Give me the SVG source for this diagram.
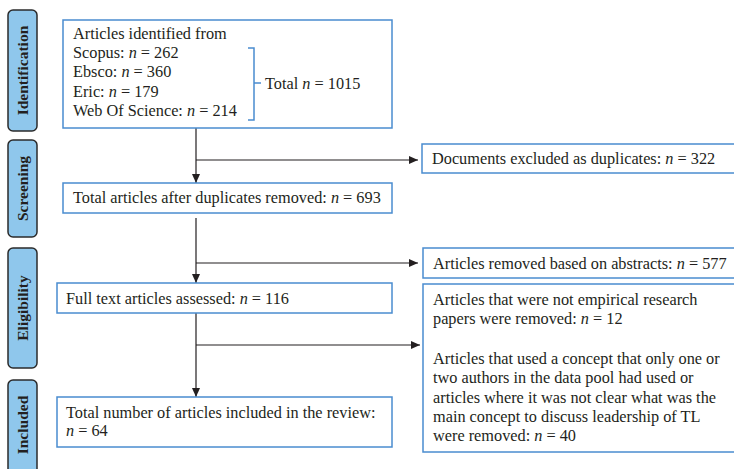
<svg xmlns="http://www.w3.org/2000/svg" width="734" height="469" viewBox="0 0 734 469">
<defs>
<marker id="arr" markerUnits="userSpaceOnUse" markerWidth="9" markerHeight="8" refX="9" refY="4" orient="auto">
<path d="M0,0 L9,4 L0,8 z" fill="#231f20"/>
</marker>
<style>
.box{fill:#fff;stroke:#4a8ccf;stroke-width:1.5}
.lab{fill:#8fc7ec;stroke:#2b2b2b;stroke-width:1.5}
.lt{font-family:"Liberation Serif","Times New Roman",serif;font-weight:bold;font-size:15.5px;fill:#231f20;text-anchor:middle;dominant-baseline:central}
.t{font-family:"Liberation Serif","Times New Roman",serif;font-size:16.3px;fill:#231f20}
.i{font-style:italic}
.c{fill:none;stroke:#231f20;stroke-width:1.2}
.br{fill:none;stroke:#4a8ccf;stroke-width:1.5}
</style>
</defs>
<rect width="734" height="469" fill="#fff"/>

<g id="stage-identification">
<rect class="lab" x="8" y="10" width="29" height="121" rx="5"/>
<text class="lt" transform="translate(22.5,70.5) rotate(-90)">Identification</text>
</g>
<g id="stage-screening">
<rect class="lab" x="8" y="140" width="29" height="97" rx="5"/>
<text class="lt" transform="translate(22.5,188.5) rotate(-90)">Screening</text>
</g>
<g id="stage-eligibility">
<rect class="lab" x="8" y="248" width="29" height="120" rx="5"/>
<text class="lt" transform="translate(22.5,308) rotate(-90)">Eligibility</text>
</g>
<g id="stage-included">
<rect class="lab" x="8" y="380" width="29" height="100" rx="5"/>
<text class="lt" transform="translate(22.5,425) rotate(-90)">Included</text>
</g>

<g id="connectors">
<line class="c" x1="196" y1="128" x2="196" y2="183" marker-end="url(#arr)"/>
<line class="c" x1="196" y1="160" x2="418" y2="160" marker-end="url(#arr)"/>
<line class="c" x1="196" y1="218" x2="196" y2="283" marker-end="url(#arr)"/>
<line class="c" x1="196" y1="263" x2="418" y2="263" marker-end="url(#arr)"/>
<line class="c" x1="196" y1="313" x2="196" y2="397" marker-end="url(#arr)"/>
<line class="c" x1="196" y1="345" x2="420" y2="345" marker-end="url(#arr)"/>
</g>

<g id="n-identified">
<rect class="box" x="63" y="20" width="329" height="108"/>
<text class="t" x="73" y="39">Articles identified from</text>
<text class="t" x="73" y="58">Scopus: <tspan class="i">n</tspan> = 262</text>
<text class="t" x="73" y="77">Ebsco: <tspan class="i">n</tspan> = 360</text>
<text class="t" x="73" y="97">Eric: <tspan class="i">n</tspan> = 179</text>
<text class="t" x="73" y="116">Web Of Science: <tspan class="i">n</tspan> = 214</text>
<path class="br" d="M248,48 H254 V120 H248 M254,83 H261"/>
<text class="t" x="265" y="89">Total <tspan class="i">n</tspan> = 1015</text>
</g>

<g id="n-duplicates">
<rect class="box" x="422" y="144" width="320" height="29"/>
<text class="t" x="432" y="164">Documents excluded as duplicates: <tspan class="i">n</tspan> = 322</text>
</g>

<g id="n-after-dup">
<rect class="box" x="63" y="183" width="329" height="30"/>
<text class="t" x="73" y="203">Total articles after duplicates removed: <tspan class="i">n</tspan> = 693</text>
</g>

<g id="n-abstracts">
<rect class="box" x="423" y="248" width="320" height="30"/>
<text class="t" x="433" y="269">Articles removed based on abstracts: <tspan class="i">n</tspan> = 577</text>
</g>

<g id="n-fulltext">
<rect class="box" x="57" y="283" width="335" height="30"/>
<text class="t" x="66" y="304">Full text articles assessed: <tspan class="i">n</tspan> = 116</text>
</g>

<g id="n-removed">
<rect class="box" x="423" y="284" width="320" height="168"/>
<text class="t" x="433" y="305">Articles that were not empirical research</text>
<text class="t" x="433" y="324">papers were removed: <tspan class="i">n</tspan> = 12</text>
<text class="t" x="433" y="364">Articles that used a concept that only one or</text>
<text class="t" x="433" y="383">two authors in the data pool had used or</text>
<text class="t" x="433" y="403">articles where it was not clear what was the</text>
<text class="t" x="433" y="422">main concept to discuss leadership of TL</text>
<text class="t" x="433" y="441">were removed: <tspan class="i">n</tspan> = 40</text>
</g>

<g id="n-included">
<rect class="box" x="57" y="397" width="335" height="50"/>
<text class="t" x="66" y="418">Total number of articles included in the review:</text>
<text class="t" x="66" y="436"><tspan class="i">n</tspan> = 64</text>
</g>
</svg>
